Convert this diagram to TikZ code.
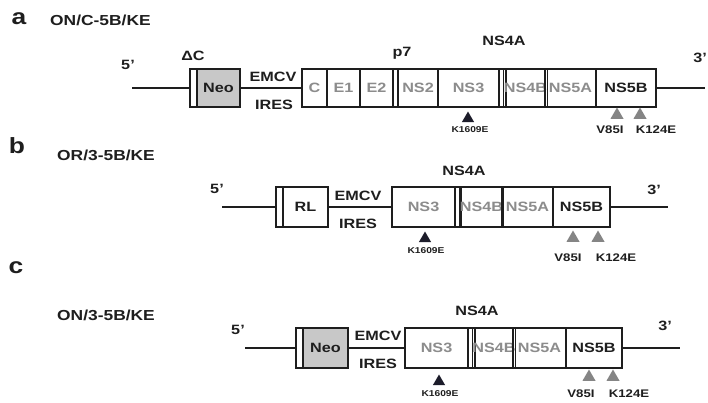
\documentclass[tikz,border=0pt]{standalone}
\usepackage{fontspec}
\usepackage{graphicx}
\setmainfont{Liberation Sans}
\usetikzlibrary{shapes.geometric}
\newcommand{\sx}[1]{\scalebox{1.2}[1]{#1}}
\definecolor{gtxt}{HTML}{8C8C8C}
\definecolor{neofill}{HTML}{C8C8C8}
\definecolor{dtxt}{HTML}{1E1E1E}
\definecolor{gtri}{HTML}{858585}
\definecolor{btri}{HTML}{1C1C2A}
\tikzset{
  cell/.style={draw=dtxt, line width=1.1pt, inner sep=0pt, font=\fontsize{13.5}{14}\selectfont\bfseries, text=gtxt},
  cellk/.style={cell, text=dtxt},
  neo/.style={cell, fill=neofill, text=dtxt},
  rna/.style={draw=dtxt, line width=1.5pt},
  lbl/.style={inner sep=0pt, text=dtxt, font=\fontsize{13.5}{14}\selectfont\bfseries},
  title/.style={inner sep=0pt, anchor=west, text=dtxt, font=\fontsize{14.5}{15}\selectfont\bfseries},
  panel/.style={inner sep=0pt, text=dtxt, font=\fontsize{22}{24}\selectfont\bfseries},
  mut/.style={inner sep=0pt, text=dtxt, font=\fontsize{11}{12}\selectfont\bfseries},
  muts/.style={inner sep=0pt, text=dtxt, font=\fontsize{8.5}{9}\selectfont\bfseries},
  btrig/.style={regular polygon, regular polygon sides=3, minimum size=14pt, inner sep=0pt, fill=btri},
  gtrig/.style={regular polygon, regular polygon sides=3, minimum size=15pt, inner sep=0pt, fill=gtri}
}
\begin{document}
\begin{tikzpicture}[x=1pt,y=-1pt]
\useasboundingbox[fill=white] (0,0) rectangle (708,402);

% ---------------- panel a ----------------
\node[panel] (pa) at (19,19) {\sx{a}};
\node[title] (ta) at (50,20) {\sx{ON/C-5B/KE}};
\coordinate (a5) at (132,88);
\coordinate (a3) at (705,88);
\node[cell, minimum width=7pt, minimum height=38pt] (astrip) at (193.5,88) {};
\node[neo, minimum width=43pt, minimum height=38pt] (aneo) at (218.5,88) {\sx{Neo}};
\node[cell, minimum width=25pt, minimum height=38pt] (ac) at (314.5,88) {\sx{C}};
\node[cell, minimum width=33pt, minimum height=38pt] (ae1) at (343.5,88) {\sx{E1}};
\node[cell, minimum width=33pt, minimum height=38pt] (ae2) at (376.5,88) {\sx{E2}};
\node[cell, minimum width=5pt, minimum height=38pt] (ap7) at (395.5,88) {};
\node[cell, minimum width=40pt, minimum height=38pt] (ans2) at (418,88) {\sx{NS2}};
\node[cell, minimum width=61pt, minimum height=38pt] (ans3) at (468.5,88) {\sx{NS3}};
\node[cell, minimum width=7pt, minimum height=38pt] (ans4a) at (502.5,88) {};
\node[cell, minimum width=39pt, minimum height=38pt] (ans4b) at (525.5,88) {\sx{NS4B}};
\node[cell, minimum width=51pt, minimum height=38pt] (ans5a) at (570.5,88) {\sx{NS5A}};
\node[cellk, minimum width=60pt, minimum height=38pt] (ans5b) at (626,88) {\sx{NS5B}};
\draw[rna] (a5) -- (astrip.west);
\draw[rna] (aneo.east) -- (ac.west);
\draw[rna] (ans5b.east) -- (a3);
\node[lbl] (a5l) at (128,65) {\sx{5'}};
\node[lbl] (a3l) at (700,58) {\sx{3'}};
\node[lbl] (adc) at (193,56) {\sx{ΔC}};
\node[lbl] (aem) at (273,77) {\sx{EMCV}};
\node[lbl] (air) at (274,105) {\sx{IRES}};
\node[lbl] (ap7l) at (402,53) {\sx{p7}};
\node[lbl] (ans4al) at (504,41) {\sx{NS4A}};
\node[btrig] (atk) at (468,118.5) {};
\node[gtrig] (atv) at (617,115) {};
\node[gtrig] (atk2) at (640,115) {};
\node[muts] (amk) at (470,130) {\sx{K1609E}};
\node[mut] (amv) at (610,130) {\sx{V85I}};
\node[mut] (amk2) at (656,130) {\sx{K124E}};

% ---------------- panel b ----------------
\node[panel] (pb) at (17,146) {\sx{b}};
\node[title] (tb) at (57,155) {\sx{OR/3-5B/KE}};
\coordinate (b5) at (222,207);
\coordinate (b3) at (668,207);
\node[cell, minimum width=7pt, minimum height=40pt] (bstrip) at (279.5,207) {};
\node[cellk, minimum width=45pt, minimum height=40pt] (brl) at (305.5,207) {\sx{RL}};
\node[cell, minimum width=63pt, minimum height=40pt] (bns3) at (423.5,207) {\sx{NS3}};
\node[cell, minimum width=6pt, minimum height=40pt] (bns4a) at (458,207) {};
\node[cell, minimum width=41pt, minimum height=40pt] (bns4b) at (481.5,207) {\sx{NS4B}};
\node[cell, minimum width=51pt, minimum height=40pt] (bns5a) at (527.5,207) {\sx{NS5A}};
\node[cellk, minimum width=57pt, minimum height=40pt] (bns5b) at (581.5,207) {\sx{NS5B}};
\draw[rna] (b5) -- (bstrip.west);
\draw[rna] (brl.east) -- (bns3.west);
\draw[rna] (bns5b.east) -- (b3);
\node[lbl] (b5l) at (217,189) {\sx{5'}};
\node[lbl] (b3l) at (654,190) {\sx{3'}};
\node[lbl] (bem) at (358,196) {\sx{EMCV}};
\node[lbl] (bir) at (358,224) {\sx{IRES}};
\node[lbl] (bns4al) at (464,171) {\sx{NS4A}};
\node[btrig] (btk) at (425,238.5) {};
\node[gtrig] (btv) at (573,238) {};
\node[gtrig] (btk2) at (598,238) {};
\node[muts] (bmk) at (426,251) {\sx{K1609E}};
\node[mut] (bmv) at (568,258) {\sx{V85I}};
\node[mut] (bmk2) at (616,258) {\sx{K124E}};

% ---------------- panel c ----------------
\node[panel] (pc) at (16,268) {\sx{c}};
\node[title] (tc) at (57,315) {\sx{ON/3-5B/KE}};
\coordinate (c5) at (245,348);
\coordinate (c3) at (680,348);
\node[cell, minimum width=7pt, minimum height=40pt] (cstrip) at (299.5,348) {};
\node[neo, minimum width=45pt, minimum height=40pt] (cneo) at (325.5,348) {\sx{Neo}};
\node[cell, minimum width=63pt, minimum height=40pt] (cns3) at (436.5,348) {\sx{NS3}};
\node[cell, minimum width=7pt, minimum height=40pt] (cns4a) at (471.5,348) {};
\node[cell, minimum width=38pt, minimum height=40pt] (cns4b) at (494,348) {\sx{NS4B}};
\node[cell, minimum width=53pt, minimum height=40pt] (cns5a) at (539.5,348) {\sx{NS5A}};
\node[cellk, minimum width=56pt, minimum height=40pt] (cns5b) at (594,348) {\sx{NS5B}};
\draw[rna] (c5) -- (cstrip.west);
\draw[rna] (cneo.east) -- (cns3.west);
\draw[rna] (cns5b.east) -- (c3);
\node[lbl] (c5l) at (238,330) {\sx{5'}};
\node[lbl] (c3l) at (665,326) {\sx{3'}};
\node[lbl] (cem) at (378,336) {\sx{EMCV}};
\node[lbl] (cir) at (378,364) {\sx{IRES}};
\node[lbl] (cns4al) at (477,311) {\sx{NS4A}};
\node[btrig] (ctk) at (439,381.5) {};
\node[gtrig] (ctv) at (589,377) {};
\node[gtrig] (ctk2) at (613,377) {};
\node[muts] (cmk) at (440,394) {\sx{K1609E}};
\node[mut] (cmv) at (581,394) {\sx{V85I}};
\node[mut] (cmk2) at (629,394) {\sx{K124E}};
\end{tikzpicture}
\end{document}
